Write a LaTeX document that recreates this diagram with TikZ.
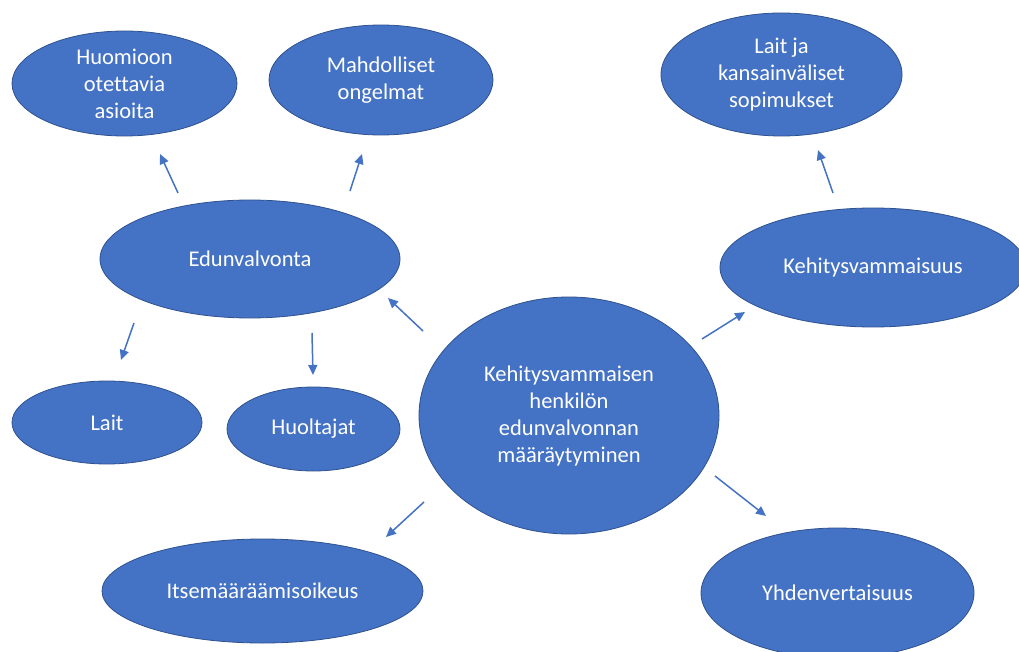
\documentclass[tikz,border=0pt]{standalone}
\usepackage{fontspec}
\setmainfont{Carlito}[RawFeature={-liga}]
\usetikzlibrary{shapes.geometric,arrows.meta}
\definecolor{accent}{HTML}{4472C4}
\definecolor{accentdark}{HTML}{2F528F}
\tikzset{
  bubble/.style={ellipse, fill=accent, draw=accentdark, line width=0.8pt, inner sep=0pt,
    text=white, align=center, font=\fontsize{22.5}{27}\selectfont},
  link/.style={draw=accent, line width=1.5pt, -{Triangle[length=10pt,width=9pt]}}
}
\begin{document}
\begin{tikzpicture}[x=1pt,y=-1pt]
\useasboundingbox[fill=white] (0,0) rectangle (1019,652);
% nodes
\node[bubble, minimum width=225pt, minimum height=105pt] (huom) at (124.5,83.5) {Huomioon\\otettavia\\asioita};
\node[bubble, minimum width=224pt, minimum height=110pt] (mahd) at (381,80) {Mahdolliset\\ongelmat};
\node[bubble, minimum width=241pt, minimum height=123pt] (lait2) at (781.5,74.5) {Lait ja\\kansainväliset\\sopimukset};
\node[bubble, minimum width=300pt, minimum height=118pt] (edun) at (250,259) {Edunvalvonta};
\node[bubble, minimum width=306pt, minimum height=119pt] (kehi) at (873,267.5) {Kehitysvammaisuus};
\node[bubble, minimum width=300pt, minimum height=237pt] (center) at (569,415.5) {Kehitysvammaisen\\henkilön\\edunvalvonnan\\määräytyminen};
\node[bubble, minimum width=190pt, minimum height=83pt] (lait) at (107,422.5) {Lait};
\node[bubble, minimum width=173pt, minimum height=84pt] (huol) at (313.5,429) {Huoltajat};
\node[bubble, minimum width=321pt, minimum height=104pt] (itse) at (262.5,591) {Itsemääräämisoikeus};
\node[bubble, minimum width=273pt, minimum height=130pt] (yhde) at (837.5,593) {Yhdenvertaisuus};
% connector end points
\coordinate (eh0) at (178,193); \coordinate (eh1) at (160,154);
\coordinate (em0) at (350,191); \coordinate (em1) at (362,154);
\coordinate (kl0) at (833,193); \coordinate (kl1) at (818,150);
\coordinate (ce0) at (423,331); \coordinate (ce1) at (388,298);
\coordinate (ck0) at (702,339); \coordinate (ck1) at (745,312);
\coordinate (el0) at (134,323); \coordinate (el1) at (121,360);
\coordinate (eo0) at (312,333); \coordinate (eo1) at (313,375);
\coordinate (ci0) at (424,502); \coordinate (ci1) at (386,537);
\coordinate (cy0) at (715,476); \coordinate (cy1) at (766,516);
% connectors
\draw[link] (eh0) -- (eh1);
\draw[link] (em0) -- (em1);
\draw[link] (kl0) -- (kl1);
\draw[link] (ce0) -- (ce1);
\draw[link] (ck0) -- (ck1);
\draw[link] (el0) -- (el1);
\draw[link] (eo0) -- (eo1);
\draw[link] (ci0) -- (ci1);
\draw[link] (cy0) -- (cy1);
\end{tikzpicture}
\end{document}
